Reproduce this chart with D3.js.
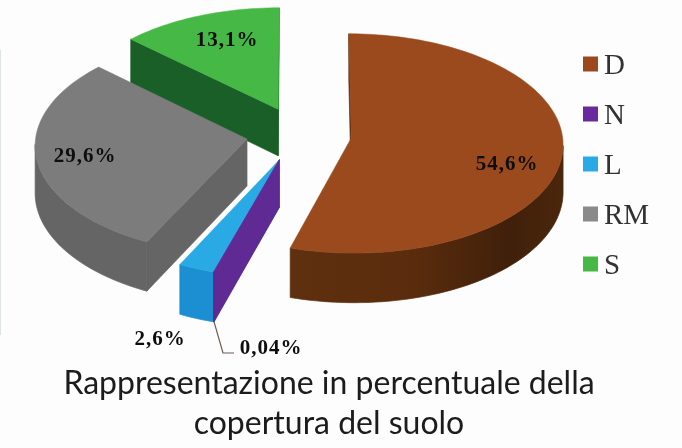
<!DOCTYPE html>
<html><head><meta charset="utf-8">
<script src="https://cdn.jsdelivr.net/npm/d3@7"></script>
<style>html,body{margin:0;padding:0;background:#fff}svg{display:block}</style>
</head><body><svg id="c" width="682" height="448"></svg>
<script>
const categories = ["D","N","L","RM","S"];
const values = [54.6,0.04,2.6,29.6,13.1];
const valueLabels = ["54,6%","0,04%","2,6%","29,6%","13,1%"];
const topColors = ["#9b4a1e","#6a2c9e","#2aaae4","#7c7c7c","#46b845"];
const wallColors = ["#5a2d0e","#5f2a94","#1c8fd2","#656565","#1b5f28"];
const legendColors = ["#9b4a1e","#6a2c9e","#2aaae4","#8a8a8a","#46b845"];
const labelPos = [[507,163],[271,347],[160,338],[85,155],[227,39]];
const titleLines = ["Rappresentazione in percentuale della","copertura del suolo"];

const W=682,H=448, cx=299, cy=134, rx=211, ry=109, persp=0.05, depth=47, explode=0.25;
const svg=d3.select("#c");
svg.append("rect").attr("width",W).attr("height",H).attr("fill","#fdfdfd");
svg.append("line").attr("x1",0.5).attr("x2",0.5).attr("y1",50).attr("y2",335).attr("stroke","#dfe4e6");
const defs=svg.append("defs");
defs.append("filter").attr("id","soft").append("feGaussianBlur").attr("stdDeviation",0.55);
defs.append("filter").attr("id","soft2").append("feGaussianBlur").attr("stdDeviation",0.4);
const grad=defs.append("linearGradient").attr("id","dwall").attr("gradientUnits","userSpaceOnUse")
  .attr("x1",292).attr("x2",563).attr("y1",0).attr("y2",0);
grad.selectAll("stop").data([[0,"#5f300f"],[0.45,"#5a2c0d"],[0.8,"#40200a"],[1,"#4a260c"]]).join("stop")
  .attr("offset",d=>d[0]).attr("stop-color",d=>d[1]);

const pie=d3.pie().sort(null).startAngle(0).endAngle(2*Math.PI);
const arcs=pie(values);
const project=(X,Y,Z)=>{const f=1/(1+persp*Y);return [cx+X*f*rx, cy-Y*f*ry-Z*f*depth];};
const line=d3.line();

const slices=arcs.map((a,i)=>{
  // the near-zero N wedge is pushed out together with its neighbour L
  const ref=i===1?arcs[2]:a;
  const mid=(ref.startAngle+ref.endAngle)/2;
  const ox=explode*Math.sin(mid), oy=explode*Math.cos(mid);
  const n=Math.max(2,Math.ceil((a.endAngle-a.startAngle)/0.03));
  const ang=d3.range(n+1).map(k=>a.startAngle+(a.endAngle-a.startAngle)*k/n);
  const rim=ang.map(t=>[ox+Math.sin(t),oy+Math.cos(t)]);
  return {i,ox,oy,rim,ang};
});
const P=(p,z)=>project(p[0],p[1],z);
const order=[4,3,2,1,0];
order.forEach(i=>{
  const s=slices[i], g=svg.append("g").attr("class","slice-"+categories[i]);
  const apex=[s.ox,s.oy], fill=i===0?"url(#dwall)":wallColors[i];
  const quad=(a,b)=>[P(a,0),P(b,0),P(b,-1),P(a,-1)];
  const last=s.rim[s.rim.length-1];
  const drawFace=q=>g.append("path").attr("d",line(q)+"Z").attr("fill",fill).attr("stroke",fill).attr("stroke-width",0.7);
  // radial faces
  [quad(apex,s.rim[0]),quad(last,apex)].filter(q=>d3.polygonArea(q)>0).forEach(drawFace);
  // outer wall: runs of visible rim segments merged into one polygon
  let run=[];
  const flush=()=>{ if(run.length>1){ drawFace([...run.map(p=>P(p,0)),...run.slice().reverse().map(p=>P(p,-1))]); } run=[]; };
  for(let k=0;k<s.rim.length-1;k++){
    if(d3.polygonArea(quad(s.rim[k],s.rim[k+1]))>0){
      if(!run.length) run.push(s.rim[k]);
      run.push(s.rim[k+1]);
    } else flush();
  }
  flush();
  const top=[P(apex,0),...s.rim.map(p=>P(p,0))];
  g.append("path").attr("d",line(top)+"Z").attr("fill",topColors[i]).attr("stroke",topColors[i]).attr("stroke-width",0.5);
});

// leader line for N
const nEnd=P(slices[1].rim[0],-1);
svg.append("path").attr("d",line([nEnd,[labelPos[1][0]-48,labelPos[1][1]+6],[labelPos[1][0]-37,labelPos[1][1]+6]]))
  .attr("fill","none").attr("stroke","#6b5a52").attr("stroke-width",1.2);

svg.append("g").attr("filter","url(#soft)").selectAll("text").data(valueLabels).join("text")
  .attr("x",(d,i)=>labelPos[i][0]).attr("y",(d,i)=>labelPos[i][1]).attr("dy","0.35em")
  .attr("text-anchor","middle").attr("font-family","Liberation Serif").attr("font-weight","bold")
  .attr("font-size",21).attr("letter-spacing",1).attr("fill","#111").text(d=>d);

const legY=d3.scalePoint().domain(categories).range([64,264]);
const leg=svg.append("g").attr("filter","url(#soft2)");
leg.selectAll("rect").data(categories).join("rect")
  .attr("x",583).attr("y",d=>legY(d)-7.5).attr("width",15).attr("height",15)
  .attr("fill",(d,i)=>legendColors[i]);
leg.selectAll("text").data(categories).join("text")
  .attr("x",604).attr("y",d=>legY(d)).attr("dy","0.35em")
  .attr("font-family","Liberation Serif").attr("font-size",29).attr("fill","#333").text(d=>d);

svg.append("g").attr("filter","url(#soft2)").selectAll("text").data(titleLines).join("text")
  .attr("x",329).attr("y",(d,i)=>394+i*40).attr("text-anchor","middle")
  .attr("font-family","Lato").attr("font-size",32).attr("fill","#1a1a1a").text(d=>d);
</script></body></html>
